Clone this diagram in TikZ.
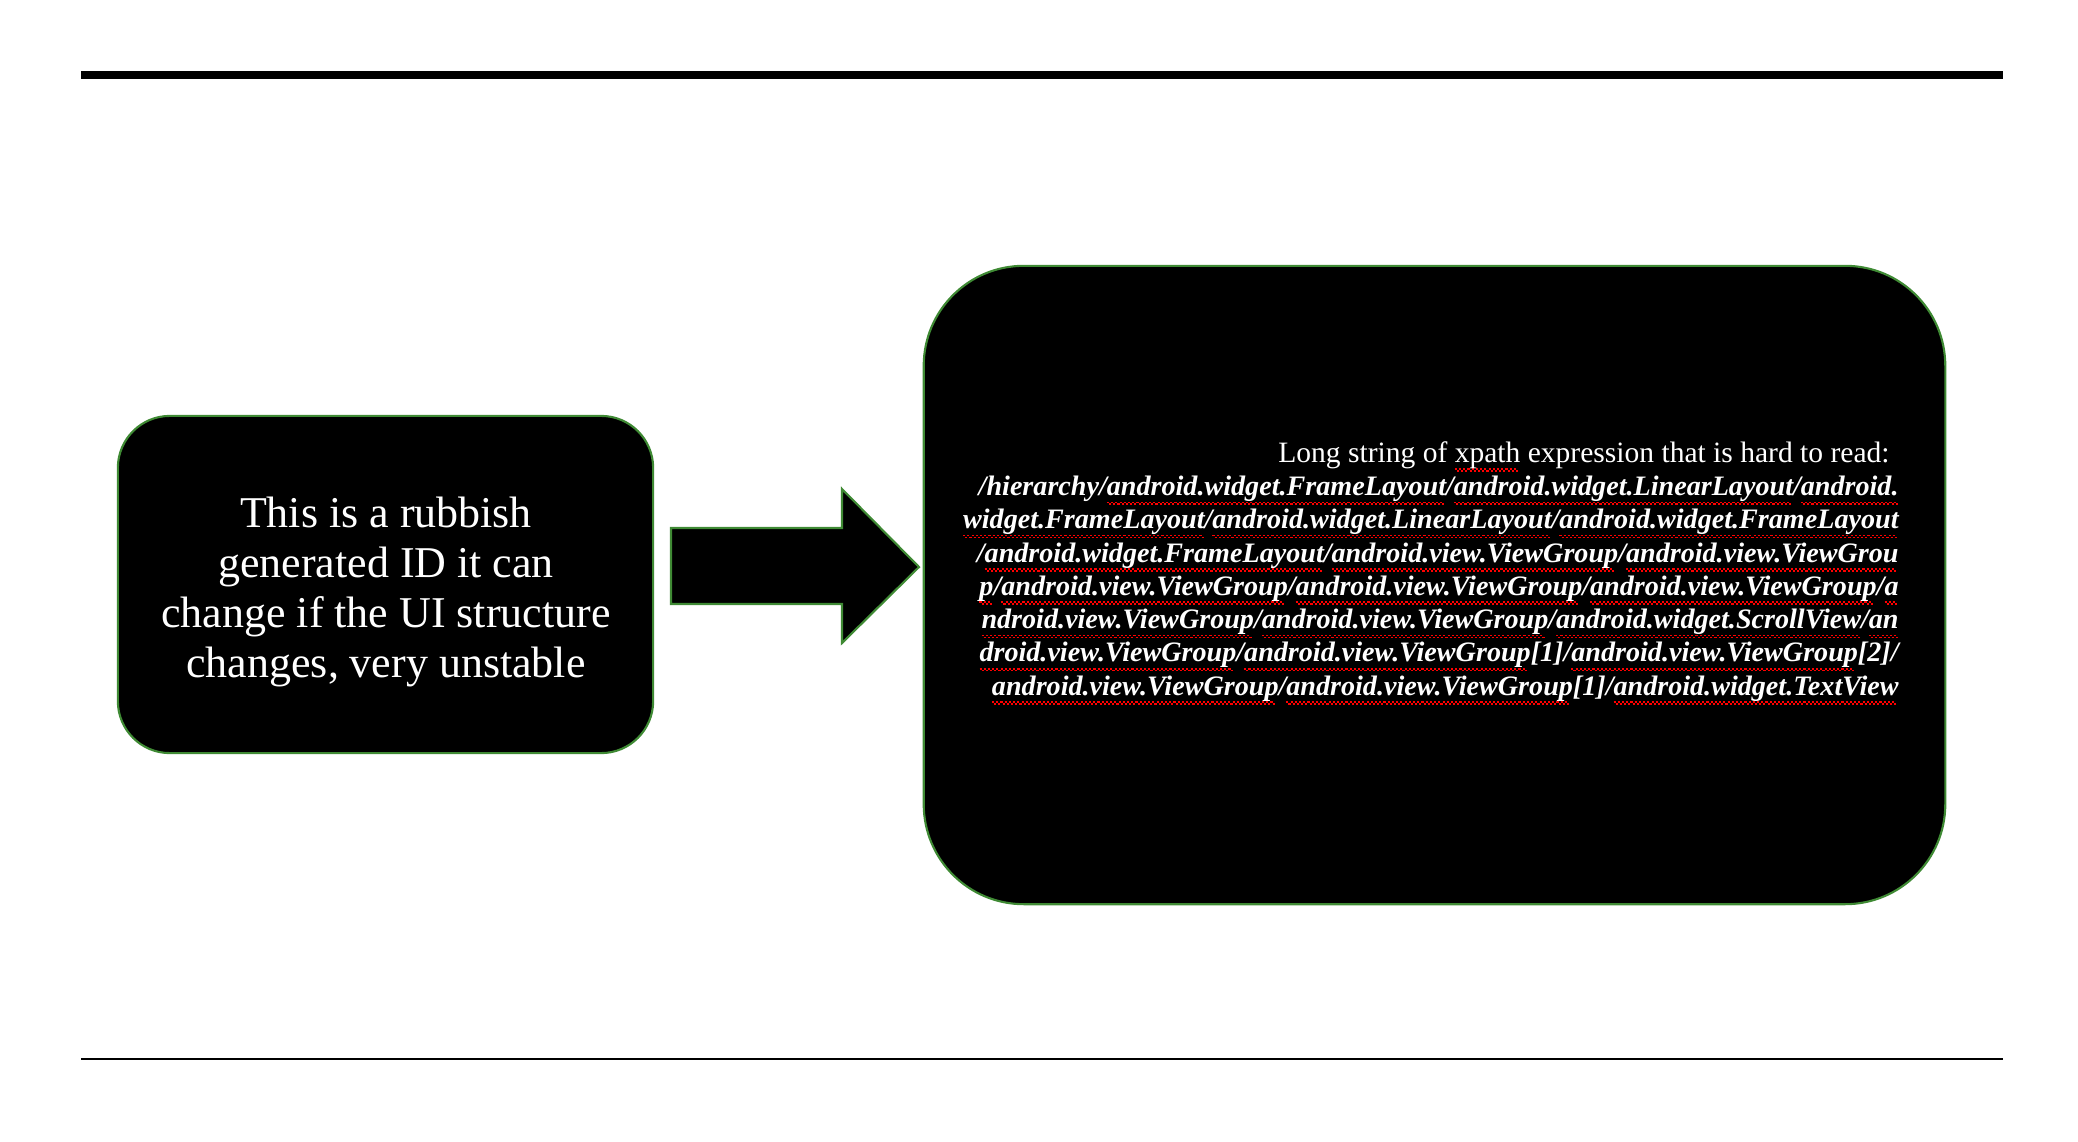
\documentclass[tikz,border=0pt]{standalone}
\usepackage{fontspec}
\setmainfont{Liberation Serif}
\usepackage{xcolor}
\usetikzlibrary{shapes,arrows,positioning,calc}

\definecolor{boxline}{HTML}{3F8A34}
\newcommand\spell[1]{\setbox0\hbox{#1}\rlap{\textcolor{red}{\hbox to \wd0{\leaders\hbox{\rule[-2.2pt]{0.6pt}{0.45pt}\rule[-2.7pt]{0.6pt}{0.45pt}}\hfil}}}\box0{}}

\begin{document}
\begin{tikzpicture}[x=0.01cm, y=-0.01cm,
    blackbox/.style={draw=boxline, fill=black, line width=0.6pt},
    bigtext/.style={text=white, align=center, font=\fontsize{12.5}{14.2}\selectfont},
    smalltext/.style={text=white, align=right, font=\fontsize{8}{9.47}\selectfont}]
            \useasboundingbox (0,0) rectangle (2078,1142);
            % Rules
            \draw[line width=2.3pt] (81,75) -- (2003,75);
            \draw[line width=0.6pt] (81,1059) -- (2003,1059);

            % Boxes
            \node[blackbox, rounded corners=0.52cm, minimum width=5.35cm, minimum height=3.37cm] (gen) at (385.5,584.5) {};
            \node[blackbox, rounded corners=1cm, minimum width=10.21cm, minimum height=6.38cm] (xp) at (1434.5,585) {};

            % Block arrow
            \draw[blackbox] (671,528) -- (842,528) -- (842,489) -- (919,567) -- (842,643) -- (842,604) -- (671,604) -- cycle;

            % Labels
            \node[bigtext] (gentxt) at (386,592) {This is a rubbish\\ generated ID it can\\ change if the UI structure\\ changes, very unstable};
            \node[smalltext, anchor=east] (xptxt) at (1911,573) {{\fontsize{8.4}{9.47}\selectfont Long string of \spell{xpath} expression that is hard to read:\kern0.09cm}\\
              \bfseries\itshape /hierarchy/\spell{android.widget.FrameLayout}/\spell{android.widget.LinearLayout}/\spell{android.}\\
              \bfseries\itshape \spell{widget.FrameLayout}/\spell{android.widget.LinearLayout}/\spell{android.widget.FrameLayout}\\
              \bfseries\itshape /\spell{android.widget.FrameLayout}/\spell{android.view.ViewGroup}/\spell{android.view.ViewGrou}\\
              \bfseries\itshape \spell{p}/\spell{android.view.ViewGroup}/\spell{android.view.ViewGroup}/\spell{android.view.ViewGroup}/\spell{a}\\
              \bfseries\itshape \spell{ndroid.view.ViewGroup}/\spell{android.view.ViewGroup}/\spell{android.widget.ScrollView}/\spell{an}\\
              \bfseries\itshape \spell{droid.view.ViewGroup}/\spell{android.view.ViewGroup}[1]/\spell{android.view.ViewGroup}[2]/\\
              \bfseries\itshape \spell{android.view.ViewGroup}/\spell{android.view.ViewGroup}[1]/\spell{android.widget.TextView}};
        \end{tikzpicture}
\end{document}
